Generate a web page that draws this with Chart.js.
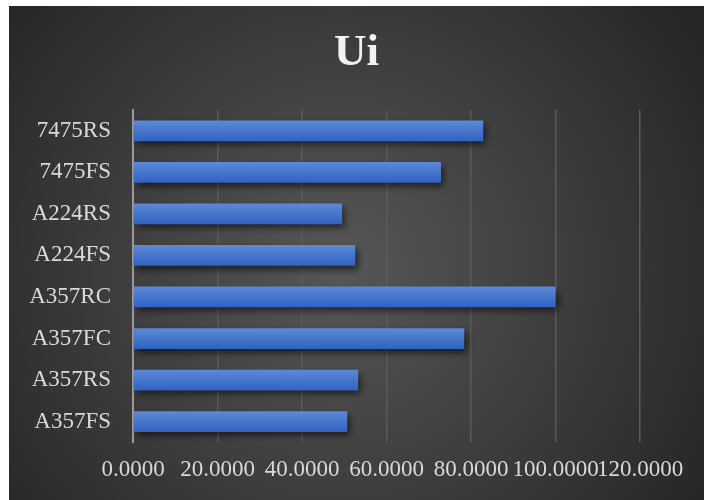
<!DOCTYPE html>
<html>
<head>
<meta charset="utf-8">
<script src="https://cdn.jsdelivr.net/npm/chart.js@4"></script>
<style>
html,body{margin:0;padding:0;background:#fff}
#wrap{width:704px;height:500px}
</style>
</head>
<body>
<div id="wrap"><canvas id="myChart" width="704" height="500"></canvas></div>
<script>
var samples=['7475RS','7475FS','A224RS','A224FS','A357RC','A357FC','A357RS','A357FS']
var uiValues=[82.9,72.9,49.5,52.6,100.0,78.4,53.3,50.7]
var xTicks=[0,20,40,60,80,100,120]

var serif='"Liberation Serif", "Times New Roman", serif'

// dark panel behind the chart, radial like the excel style
var panelBg={
 id:'panelBg',
 afterLayout(chart){
  // center the title on the whole panel, not the padded box
  if(chart.titleBlock){chart.titleBlock.left=9;chart.titleBlock.right=chart.width}
 },
 beforeDraw(chart){
  var c=chart.ctx
  var g=c.createRadialGradient(340,270,0,340,270,430)
  g.addColorStop(0,'#575757')
  g.addColorStop(1,'#262626')
  c.save()
  c.fillStyle=g
  c.fillRect(9,6,chart.width-9,chart.height-6)
  c.restore()
 }
}

var barShadow={
 id:'barShadow',
 beforeDatasetsDraw(chart){
  var c=chart.ctx
  c.save()
  c.shadowColor='rgba(0,0,0,0.6)'
  c.shadowBlur=7
  c.shadowOffsetX=3
  c.shadowOffsetY=4
 },
 afterDatasetsDraw(chart){
  chart.ctx.restore()
 }
}

function barFill(context){
 var chart=context.chart
 var ys=chart.scales&&chart.scales.y
 if(!ys||!chart.chartArea) return '#4472c4'
 var mid=ys.getPixelForValue(context.dataIndex)
 var h=(chart.chartArea.bottom-chart.chartArea.top)/samples.length*0.5
 if(!isFinite(mid)||!isFinite(h)) return '#4472c4'
 var g=chart.ctx.createLinearGradient(0,mid-h/2,0,mid+h/2)
 g.addColorStop(0,'#5f89d6')
 g.addColorStop(1,'#2f62c2')
 return g
}

var ctx=document.getElementById('myChart').getContext('2d')
var visual=new Chart(ctx,{
 type:'bar',
 data:{
  labels:samples,
  datasets:[{label:'Ui',data:uiValues,backgroundColor:barFill,borderWidth:0,
   categoryPercentage:1.0,barPercentage:0.5}]
 },
 options:{
  indexAxis:'y',
  responsive:false,
  animation:false,
  layout:{padding:{left:9,top:6,right:64,bottom:2}},
  plugins:{
   legend:{display:false},
   tooltip:{enabled:false},
   title:{display:true,text:'Ui',color:'#f2f2f2',
    font:{family:serif,size:45,weight:'bold'},
    padding:{top:20,bottom:30}}
  },
  scales:{
   x:{
    min:0,max:120,
    afterBuildTicks(scale){scale.ticks=xTicks.map(v=>({value:v}))},
    ticks:{autoSkip:false,maxRotation:0,minRotation:0,padding:14,color:'#d9d9d9',
     font:{family:serif,size:23},
     callback:v=>Number(v).toFixed(4)},
    grid:{color:'#5a5a5a',lineWidth:1.5,drawTicks:false},
    border:{display:false}
   },
   y:{
    afterFit(scale){scale.width=124},
    ticks:{padding:22,color:'#d9d9d9',font:{family:serif,size:23}},
    grid:{display:false,drawTicks:false},
    border:{display:true,color:'#9a9a9a',width:2}
   }
  }
 },
 plugins:[panelBg,barShadow]
})
</script>
</body>
</html>
